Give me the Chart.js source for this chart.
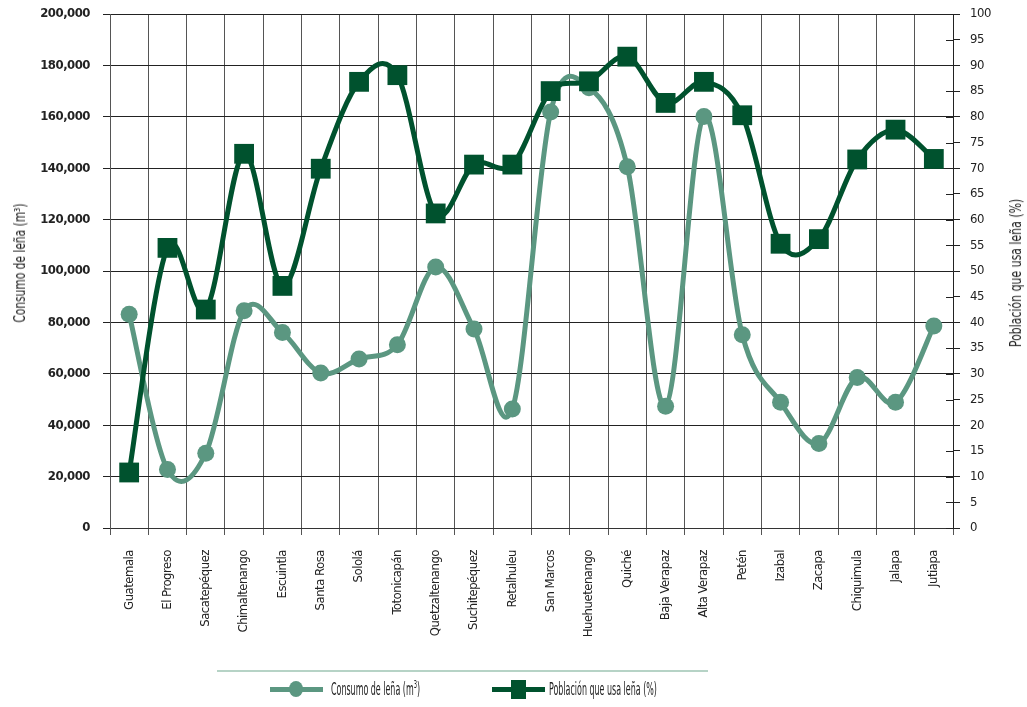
<!DOCTYPE html>
<html lang="es">
<head>
  <meta charset="UTF-8">
  <title>Consumo de leña por departamento</title>
  <script src="https://cdn.jsdelivr.net/npm/chart.js"></script>
  <style>
    body {
      margin: 0;
      background: #fff;
      font-family: "DejaVu Sans Condensed", "Liberation Sans Narrow", sans-serif;
      color: #222;
    }
    #wrap {
      position: absolute;
      left: 0;
      top: 0;
      width: 1027px;
      height: 707px;
    }
    .sep {
      position: absolute;
      left: 217px;
      top: 670px;
      width: 491px;
      height: 2px;
      background: #b6d3c6;
    }
    .lg-line { position: absolute; height: 5px; top: 687px; width: 53px; }
    .lg-mark { position: absolute; }
    .lg-text {
      position: absolute;
      top: 678px;
      font-size: 17px;
      line-height: 22px;
      white-space: nowrap;
      transform-origin: 0 50%;
    }
    .lg-text sup { font-size: 11px; line-height: 0; }
    .ax-title {
      position: absolute;
      font-size: 15px;
      white-space: nowrap;
    }
  </style>
</head>
<body>

<div id="wrap"><canvas id="chart"></canvas></div>

<div class="ax-title" style="left:20px;top:263px;transform:translate(-50%,-50%) rotate(-90deg) scaleX(0.79)">Consumo de leña (m³)</div>
<div class="ax-title" style="left:1016px;top:273px;transform:translate(-50%,-50%) rotate(-90deg) scaleX(0.81)">Población que usa leña (%)</div>

<div class="sep"></div>
<div class="lg-line" style="left:270px;background:#5b9781"></div>
<div class="lg-mark" style="left:289px;top:681px;width:14px;height:16px;border-radius:50%;background:#5b9781"></div>
<div class="lg-text" style="left:331px;transform:scaleX(0.52)">Consumo de leña (m<sup>3</sup>)</div>
<div class="lg-line" style="left:492px;background:#00522e"></div>
<div class="lg-mark" style="left:511px;top:680px;width:15px;height:19px;background:#00522e"></div>
<div class="lg-text" style="left:549px;transform:scaleX(0.52)">Población que usa leña (%)</div>

<script>
  const departamentos = ['Guatemala', 'El Progreso', 'Sacatepéquez', 'Chimaltenango', 'Escuintla',
    'Santa Rosa', 'Sololá', 'Totonicapán', 'Quetzaltenango', 'Suchitepéquez', 'Retalhuleu',
    'San Marcos', 'Huehuetenango', 'Quiché', 'Baja Verapaz', 'Alta Verapaz', 'Petén',
    'Izabal', 'Zacapa', 'Chiquimula', 'Jalapa', 'Jutiapa'];

  // m3
  const consumo = [83200, 22800, 29100, 84500, 76100, 60300, 65800, 71300, 101600, 77400, 46300,
    161900, 171300, 140600, 47400, 160100, 75200, 48900, 32900, 58600, 48900, 78600];

  // %
  const poblacion = [10.8, 54.5, 42.5, 72.8, 47.1, 69.9, 86.8, 88.1, 61.2, 70.7, 70.7,
    85.0, 86.9, 91.7, 82.7, 86.8, 80.3, 55.3, 56.2, 71.7, 77.5, 71.8];

  const FONT = '"DejaVu Sans Condensed", "Liberation Sans Narrow", sans-serif';
  const H = 707;

  // tighter text, the original uses a condensed face
  const narrowText = {
    id: 'narrowText',
    beforeUpdate(chart) { chart.ctx.letterSpacing = '-0.5px'; },
    beforeDraw(chart) { chart.ctx.letterSpacing = '-0.5px'; }
  };

  // smoothing like the spreadsheet version: tangent = (next - prev) / 6
  const smoothLines = {
    id: 'smoothLines',
    beforeDatasetsDraw(chart) {
      chart.getSortedVisibleDatasetMetas().forEach(meta => {
        const line = meta.dataset;
        if (!line) return;
        line.updateControlPoints(chart.chartArea, 'x');
        const pts = meta.data;
        const n = pts.length;
        for (let i = 0; i < n; i++) {
          const p = pts[i];
          const prev = pts[Math.max(i - 1, 0)];
          const next = pts[Math.min(i + 1, n - 1)];
          const dx = (next.x - prev.x) / 6;
          const dy = (next.y - prev.y) / 6;
          p.cp1x = p.x - dx; p.cp1y = p.y - dy;
          p.cp2x = p.x + dx; p.cp2y = p.y + dy;
        }
        line._path = undefined;
      });

      // right axis ticks cross the axis line
      const s = chart.scales.y1;
      const c = chart.ctx;
      c.save();
      c.strokeStyle = '#222';
      c.lineWidth = 1;
      s.ticks.forEach(t => {
        const y = Math.round(s.getPixelForValue(t.value)) + 0.5;
        c.beginPath();
        c.moveTo(s.left - 7, y);
        c.lineTo(s.left, y);
        c.stroke();
      });
      c.restore();
    }
  };

  const ctx = document.getElementById('chart').getContext('2d');
  new Chart(ctx, {
    type: 'line',
    data: {
      labels: departamentos,
      datasets: [
        {
          label: 'Consumo de leña (m³)',
          data: consumo,
          yAxisID: 'y',
          order: 1,
          borderColor: '#5b9781',
          backgroundColor: '#5b9781',
          borderWidth: 5,
          tension: 0.4,
          pointStyle: 'circle',
          pointRadius: 8.5,
          pointBorderWidth: 0
        },
        {
          label: 'Población que usa leña (%)',
          data: poblacion,
          yAxisID: 'y1',
          order: 0,
          borderColor: '#00522e',
          backgroundColor: '#00522e',
          borderWidth: 5,
          tension: 0.4,
          pointStyle: 'rect',
          pointRadius: 14,
          pointBorderWidth: 0
        }
      ]
    },
    options: {
      responsive: true,
      maintainAspectRatio: false,
      animation: false,
      layout: { padding: { top: 12, left: 0, right: 0, bottom: 0 } },
      plugins: {
        legend: { display: false },
        tooltip: { enabled: false }
      },
      scales: {
        x: {
          offset: true,
          grid: { color: '#555', lineWidth: 1, tickLength: 7, offset: true },
          border: { color: '#333' },
          ticks: {
            autoSkip: false,
            minRotation: 90,
            maxRotation: 90,
            padding: 15,
            color: '#222',
            font: { family: FONT, size: 13 }
          },
          afterFit: s => { s.height = H - 528; s.paddingLeft = 0; s.paddingRight = 0; }
        },
        y: {
          position: 'left',
          min: 0,
          max: 200000,
          grid: { color: '#222', lineWidth: 1, tickLength: 7 },
          border: { color: '#555' },
          ticks: {
            stepSize: 20000,
            padding: 13,
            color: '#222',
            font: { family: FONT, size: 13, weight: 'bold' },
            callback: v => v.toLocaleString('en-US')
          },
          afterFit: s => { s.width = 110; s.paddingTop = 0; s.paddingBottom = 0; }
        },
        y1: {
          position: 'right',
          min: 0,
          max: 100,
          grid: { drawOnChartArea: false, color: '#222', tickLength: 7 },
          border: { color: '#222' },
          ticks: {
            stepSize: 5,
            padding: 10,
            color: '#222',
            font: { family: FONT, size: 13 }
          },
          afterFit: s => { s.width = 1027 - 953; s.paddingTop = 0; s.paddingBottom = 0; }
        }
      }
    },
    plugins: [narrowText, smoothLines]
  });
</script>

</body>
</html>
